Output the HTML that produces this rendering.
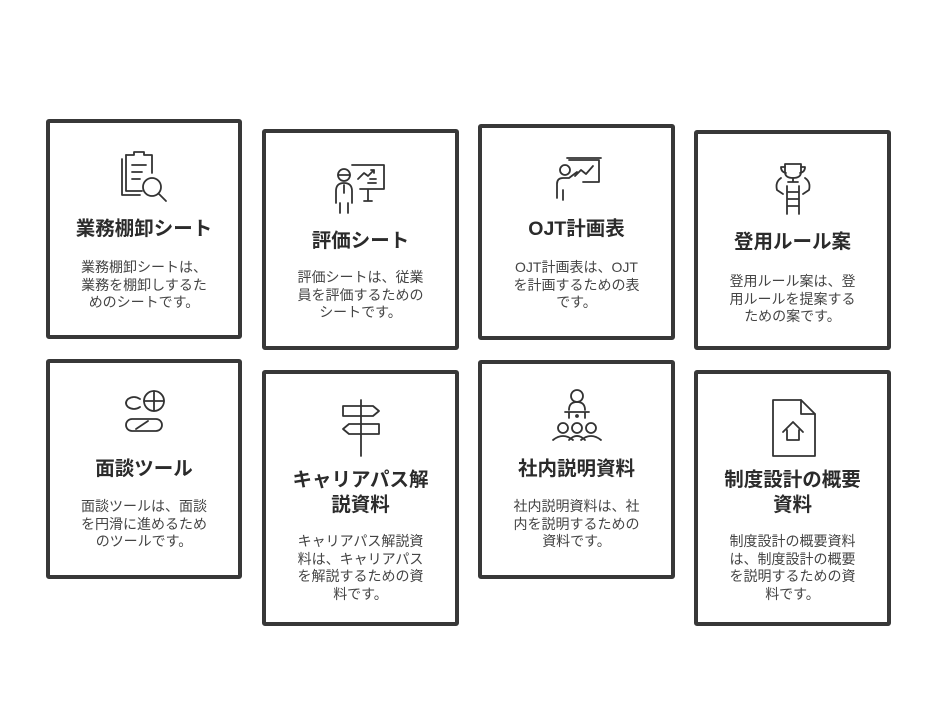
<!DOCTYPE html>
<html><head><meta charset="utf-8"><style>
body{margin:0;background:#fff;}
#w{position:relative;width:936px;height:708px;overflow:hidden;font-family:"Liberation Sans","Noto Sans CJK JP",sans-serif;}
.c{position:absolute;border:4px solid #383838;border-radius:3px;box-sizing:border-box;background:#fff;}
.ic{position:absolute;left:50%;transform:translateX(-50%);}
.t{position:absolute;left:0;right:0;text-align:center;font-weight:bold;font-size:19.5px;line-height:25px;color:#2b2b2b;}
.d{position:absolute;left:50%;transform:translateX(-50%);width:132px;text-align:center;font-size:14px;line-height:17.5px;color:#444;}
svg{stroke:#333;stroke-width:1.8;fill:none;stroke-linecap:round;stroke-linejoin:round}
</style></head><body><div id="w">

<div class="c" style="left:46px;top:119px;width:196px;height:220px">
<svg class="ic" style="top:24px" width="64" height="64" viewBox="0 0 64 64"><path d="M14 8h8v-3h10v3h8v18"/><path d="M14 8v36h16"/><path d="M10 12v36h18"/><path d="M20 18h14M20 25h10M20 32h8"/><circle cx="40" cy="40" r="9"/><path d="M47 47l7 7"/></svg>
<div class="t" style="top:94px">業務棚卸シート</div>
<div class="d" style="top:136px">業務棚卸シートは、業務を棚卸しするためのシートです。</div></div>

<div class="c" style="left:262px;top:129px;width:197px;height:221px">
<svg class="ic" style="top:22px" width="70" height="64" viewBox="0 0 70 64"><circle cx="18" cy="20" r="6"/><path d="M12 20h12"/><path d="M10 48V36q0-8 8-8t8 8v12M14 48v10M22 48v10M18 30v8"/><path d="M26 10h32v24H34M42 34v12M38 46h8"/><path d="M32 24l6-6 4 3 6-6M45 15h3v3M42 28h8M44 24h6"/></svg>
<div class="t" style="top:96px">評価シート</div>
<div class="d" style="top:136px">評価シートは、従業員を評価するためのシートです。</div></div>

<div class="c" style="left:478px;top:124px;width:197px;height:216px">
<svg class="ic" style="top:20px" width="64" height="64" viewBox="0 0 64 64"><path d="M24 12h30v22H38"/><path d="M22 10h34"/><path d="M30 28l6-6 5 4 7-8"/><circle cx="20" cy="22" r="5"/><path d="M12 50V36q0-6 6-6h6l8-6M18 42v10"/></svg>
<div class="t" style="top:89px">OJT計画表</div>
<div class="d" style="top:131px">OJT計画表は、OJTを計画するための表です。</div></div>

<div class="c" style="left:694px;top:130px;width:197px;height:220px">
<svg class="ic" style="top:24px" width="64" height="64" viewBox="0 0 64 64"><path d="M24 6h16v8q0 6-8 6t-8-6z"/><path d="M24 9h-4q0 5 5 6M40 9h4q0 5-5 6M32 20v4M27 24h10"/><path d="M20 20q-6 4-4 12l6 4M44 20q6 4 4 12l-6 4"/><path d="M26 28v28M38 28v28M26 34h12M26 41h12M26 48h12"/></svg>
<div class="t" style="top:96px">登用ルール案</div>
<div class="d" style="top:139px">登用ルール案は、登用ルールを提案するための案です。</div></div>

<div class="c" style="left:46px;top:359px;width:196px;height:220px">
<svg class="ic" style="top:22px" width="64" height="64" viewBox="0 0 64 64"><path d="M16 14q6-4 12 0M16 22q6 4 12 0M16 14q-4 4 0 8"/><circle cx="42" cy="16" r="10"/><path d="M42 6v20M32 16h20"/><rect x="14" y="34" width="36" height="12" rx="6"/><path d="M24 44l12-8"/></svg>
<div class="t" style="top:94px">面談ツール</div>
<div class="d" style="top:135px">面談ツールは、面談を円滑に進めるためのツールです。</div></div>

<div class="c" style="left:262px;top:370px;width:197px;height:256px">
<svg class="ic" style="top:20px" width="64" height="64" viewBox="0 0 64 64"><path d="M32 6v56"/><path d="M14 12h30l6 5-6 5H14z"/><path d="M50 30H20l-6 5 6 5h30z"/></svg>
<div class="t" style="top:94px">キャリアパス解<br>説資料</div>
<div class="d" style="top:159px">キャリアパス解説資料は、キャリアパスを解説するための資料です。</div></div>

<div class="c" style="left:478px;top:360px;width:197px;height:219px">
<svg class="ic" style="top:20px" width="64" height="64" viewBox="0 0 64 64"><circle cx="32" cy="12" r="6"/><path d="M24 26q0-8 8-8t8 8M20 28h24M24 28v6M40 28v6"/><circle cx="32" cy="32" r="1"/><circle cx="18" cy="44" r="5"/><circle cx="32" cy="44" r="5"/><circle cx="46" cy="44" r="5"/><path d="M8 56q10-8 20 0M24 56q8-8 16 0M36 56q10-8 20 0"/></svg>
<div class="t" style="top:93px">社内説明資料</div>
<div class="d" style="top:134px">社内説明資料は、社内を説明するための資料です。</div></div>

<div class="c" style="left:694px;top:370px;width:197px;height:256px">
<svg class="ic" style="top:22px" width="64" height="64" viewBox="0 0 64 64"><path d="M12 4h28l14 14v42H12z"/><path d="M40 4v14h14"/><path d="M22 36l10-10 10 10M26 34v10h12V34"/></svg>
<div class="t" style="top:94px">制度設計の概要<br>資料</div>
<div class="d" style="top:159px">制度設計の概要資料は、制度設計の概要を説明するための資料です。</div></div>

</div></body></html>
